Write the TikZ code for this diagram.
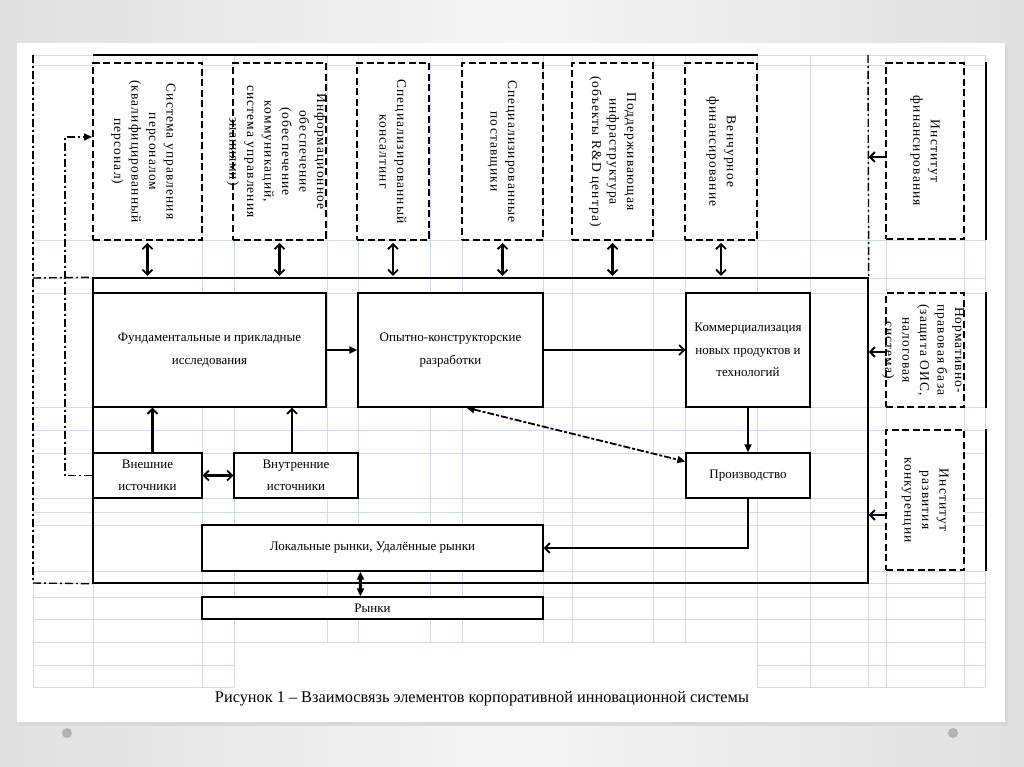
\documentclass[tikz,border=0pt]{standalone}
\usepackage{fontspec}
\setmainfont{Liberation Serif}
\newfontfamily\vertfont{Liberation Serif}[LetterSpace=8]
\usetikzlibrary{arrows.meta}
\definecolor{gridgray}{RGB}{212,219,232}
\definecolor{slidegray}{RGB}{226,226,226}

\tikzset{
  gridline/.style={draw=gridgray, line width=0.8pt},
  blk/.style={draw, fill=white, line width=1.4pt, inner sep=0pt, align=center, font=\fontsize{13}{22.5}\selectfont},
  extbox/.style={draw, fill=white, line width=1.9pt, dash pattern=on 7pt off 3.5pt, inner sep=0pt},
  vtext/.style={rotate=-90, align=center, inner sep=0pt, font=\vertfont\fontsize{13.5}{17.5}\selectfont},
  dashdot/.style={line width=1.4pt, dash pattern=on 8pt off 3pt on 2pt off 3pt},
  link/.style={line width=2.2pt},
  tri/.tip={Triangle[length=8pt,width=7pt]},
}

\begin{document}
\begin{tikzpicture}[x=1pt,y=-1pt,>={Straight Barb[length=5pt,width=10pt,line width=1.8pt]}]
    \useasboundingbox (0,0) rectangle (1024,767);
    % slide background and page
    \shade[left color=gray!24, right color=gray!24, middle color=gray!8] (0,0) rectangle (1024,767);
    \fill[gray!30] (19,45) rectangle (1008,726);
    \fill[white] (17,43) rectangle (1005,722);
    \fill[gray!60] (67,733) circle (5pt);
    \fill[gray!60] (953,733) circle (5pt);

    % table grid behind the scheme
    \foreach \gx in {33,93,202,234,327,358,430,462,543,572,653,685,757,810,868,886,964,985}
        \draw[gridline] (\gx,55) -- (\gx,642);
    \foreach \gy in {55,65,240,278,293,407,430,453,498,512,525,571,583,597,619,642}
        \draw[gridline] (33,\gy) -- (985,\gy);
    \foreach \gx in {33,93,202,234,757,810,868,886,964,985}
        \draw[gridline] (\gx,642) -- (\gx,687);
    \foreach \gy in {665,687} {
        \draw[gridline] (33,\gy) -- (234,\gy);
        \draw[gridline] (757,\gy) -- (985,\gy);
    }

    % enterprise frame
    \node[draw, line width=1.4pt, inner sep=0pt, minimum width=775, minimum height=305] (firm) at (480.5,430.5) {};
    \draw[line width=1.5pt] (93,55) -- (758,55);
    \draw[dashdot] (33,55) -- (33,583);
    \draw[dashdot] (33,278) -- (firm.north west);
    \draw[dashdot] (33,583) -- (firm.south west);
    \draw[dashdot] (868,55) -- (firm.north east);

    % outer environment (top row)
    \node[extbox, minimum width=109, minimum height=177] (hr) at (147.5,151.5) {};
    \node[extbox, minimum width=93, minimum height=177] (info) at (279.5,151.5) {};
    \node[extbox, minimum width=72, minimum height=177] (cons) at (393,151.5) {};
    \node[extbox, minimum width=81, minimum height=177] (supp) at (502.5,151.5) {};
    \node[extbox, minimum width=81, minimum height=177] (infra) at (612.5,151.5) {};
    \node[extbox, minimum width=72, minimum height=177] (vent) at (721,151.5) {};
    \node[vtext] (hrtext) at ([xshift=-4pt]hr.center) {Система управления\\персоналом\\(квалифицированный\\персонал)};
    \node[vtext] (infotext) at ([xshift=-3pt]info.center) {Информационное\\обеспечение\\(обеспечение\\коммуникаций,\\система управления\\знаниями)};
    \node[vtext] (constext) at (cons.center) {Специализированный\\консалтинг};
    \node[vtext] (supptext) at (supp.center) {Специализированные\\поставщики};
    \node[vtext] (infratext) at (infra.center) {Поддерживающая\\инфраструктура\\(объекты R\&D центра)};
    \node[vtext] (venttext) at (vent.center) {Венчурное\\финансирование};

    % institutions (right column)
    \node[extbox, minimum width=78, minimum height=176] (instfin) at (925,151) {};
    \node[extbox, minimum width=78, minimum height=114] (norm) at (925,350) {};
    \node[extbox, minimum width=78, minimum height=140] (comp) at (925,500) {};
    \node[vtext] (instfintext) at (instfin.center) {Институт\\финансирования};
    \node[vtext] (normtext) at ([xshift=-2pt]norm.center) {Нормативно-\\правовая база\\(защита ОИС,\\налоговая\\система)};
    \node[vtext] (comptext) at (comp.center) {Институт\\развития\\конкуренции};
    \foreach \b in {instfin,norm,comp}
        \draw[line width=1.5pt] ([xshift=21pt]\b.north east) -- ([xshift=21pt]\b.south east);

    % inner blocks
    \node[blk, minimum width=233, minimum height=114] (fund) at (209.5,350) {Фундаментальные и прикладные\\исследования};
    \node[blk, minimum width=185, minimum height=114] (okr) at (450.5,350) {Опытно-конструкторские\\разработки};
    \node[blk, minimum width=124, minimum height=114] (comm) at (748,350) {Коммерциализация\\новых продуктов и\\технологий};
    \node[blk, minimum width=124, minimum height=45] (prod) at (748,475.5) {Производство};
    \node[blk, minimum width=109, minimum height=45] (ext) at (147.5,475.5) {Внешние\\источники};
    \node[blk, minimum width=124, minimum height=45] (int) at (296,475.5) {Внутренние\\источники};
    \node[blk, minimum width=341, minimum height=46] (local) at (372.5,548) {Локальные рынки, Удалённые рынки};
    \node[blk, minimum width=341, minimum height=22] (markets) at (372.5,608) {Рынки};

    % links
    \foreach \b in {hr,info,cons,supp,infra,vent}
        \draw[<->, link, shorten <=2pt, shorten >=1.5pt] (\b.south) -- (\b.south |- firm.north);
    \draw[->, line width=1.6pt] ([yshift=-6pt]instfin.west) -- ([yshift=-6pt]instfin.west -| firm.east);
    \draw[->, line width=1.6pt] ([yshift=-2pt]norm.west) -- ([yshift=-2pt]norm.west -| firm.east);
    \draw[->, line width=1.6pt] ([yshift=-15pt]comp.west) -- ([yshift=-15pt]comp.west -| firm.east);
    \draw[-tri, line width=2.4pt] (fund.east) -- (okr.west);
    \draw[->, link] (okr.east) -- (comm.west);
    \draw[-tri, link] (comm.south) -- (prod.north);
    \draw[tri-tri, line width=1.8pt, dash pattern=on 7pt off 2pt on 3pt off 2pt] ([xshift=16pt]okr.south) -- ([yshift=14pt]prod.west);
    \draw[->, link] ([xshift=5pt]ext.north) -- ([xshift=5pt]ext.north |- fund.south);
    \draw[->, link] ([xshift=-4pt]int.north) -- ([xshift=-4pt]int.north |- fund.south);
    \draw[<->, link] (ext.east) -- (int.west);
    \draw[->, line width=1.4pt] (prod.south) |- (local.east);
    \draw[tri-tri, link] ([xshift=-12pt]local.south) -- ([xshift=-12pt]markets.north);
    \coordinate (fbcorner) at (65,137);
    \draw[dashdot, -tri] (ext.west) -| (fbcorner) -- (fbcorner -| hr.west);

    % caption
    \node[font=\fontsize{16.3}{19}\selectfont] (caption) at (482,699) {Рисунок 1 – Взаимосвязь элементов корпоративной инновационной системы};
\end{tikzpicture}
\end{document}
